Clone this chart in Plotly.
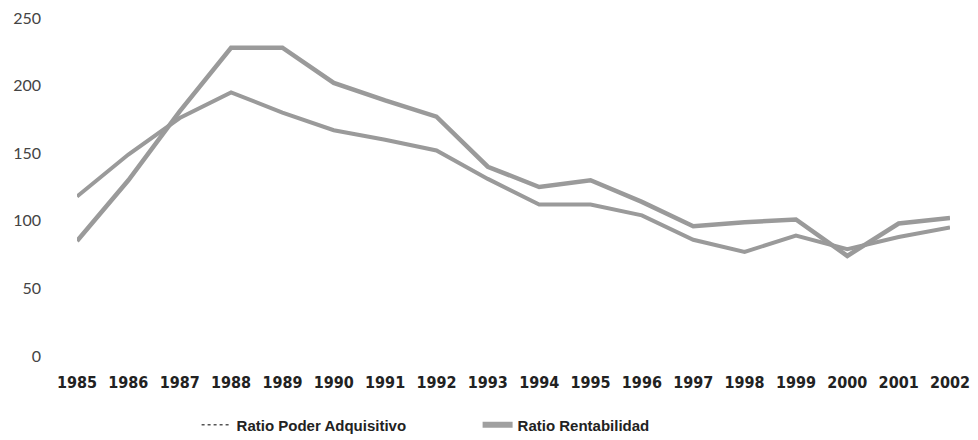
import plotly.graph_objects as go

years = list(range(1985, 2003))
poder_adquisitivo = [118, 149, 176, 195, 180, 167, 160, 152, 131, 112, 112, 104, 86, 77, 89, 79, 88, 95]
rentabilidad = [85, 130, 181, 228, 228, 202, 189, 177, 140, 125, 130, 114, 96, 99, 101, 74, 98, 102]
y_ticks = [0, 50, 100, 150, 200, 250]

line_color = "#9a9a9a"
cond = "DejaVu Sans Condensed, sans-serif"
fig = go.Figure()
fig.add_trace(go.Scatter(x=years, y=poder_adquisitivo, mode="lines",
                         line=dict(color=line_color, width=4), showlegend=False,
                         name="Ratio Poder Adquisitivo"))
fig.add_trace(go.Scatter(x=years, y=rentabilidad, mode="lines",
                         line=dict(color=line_color, width=4.5), showlegend=False,
                         name="Ratio Rentabilidad"))
# legend entries
fig.add_trace(go.Scatter(x=[None], y=[None], mode="lines", name="Ratio Poder Adquisitivo",
                         line=dict(color="#555555", width=1.5, dash="dot")))
fig.add_trace(go.Scatter(x=[None], y=[None], mode="lines", name="Ratio Rentabilidad",
                         line=dict(color="#a0a0a0", width=6)))

fig.update_layout(
    width=978, height=440,
    margin=dict(l=69, r=36, t=10, b=92, autoexpand=False),
    paper_bgcolor="white", plot_bgcolor="white",
    xaxis=dict(range=[1985, 2002], tickmode="array", tickvals=years,
               ticktext=[str(y) for y in years], showgrid=False, zeroline=False,
               showline=False, ticks="", ticklabelstandoff=15, automargin=False,
               ticklabeloverflow="allow",
               tickfont=dict(family=cond, size=16, color="#222222", weight="bold")),
    yaxis=dict(range=[0, 250], tickvals=y_ticks, showgrid=False, zeroline=False,
               showline=False, ticks="", ticklabelstandoff=35, automargin=False,
               ticklabeloverflow="allow",
               tickfont=dict(family="Lato, sans-serif", size=16, color="#444444")),
    legend=dict(orientation="h", x=0.137, xanchor="left", yref="container",
                y=0.052, yanchor="middle",
                entrywidth=236, entrywidthmode="pixels",
                font=dict(family="Liberation Sans, Arial, sans-serif", size=15,
                          color="#222222", weight="bold")),
)
fig.write_html("out.html")
